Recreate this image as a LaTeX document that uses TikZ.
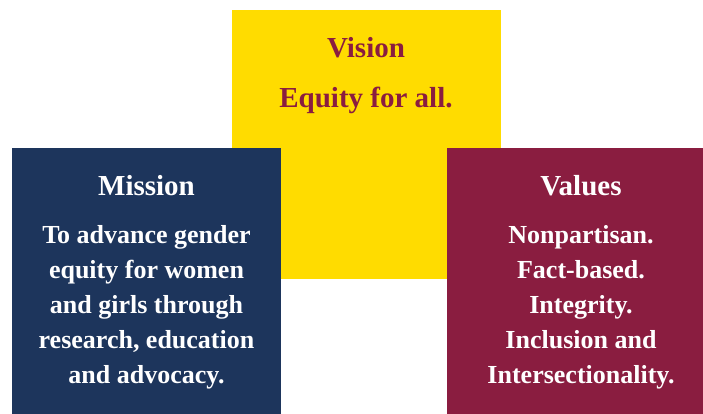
\documentclass[tikz,border=0pt]{standalone}
\usepackage{fontspec}
\setmainfont{Liberation Serif}
\definecolor{gold}{HTML}{FFDC00}
\definecolor{navy}{HTML}{1D355C}
\definecolor{maroon}{HTML}{8A1D40}
\begin{document}
\begin{tikzpicture}[x=1pt,y=-1pt,
  panel/.style={draw=none, inner sep=0pt, minimum width=269pt, minimum height=269pt, anchor=north west},
  txt/.style={inner sep=0pt, anchor=base, align=center, font=\bfseries\fontsize{26}{35}\selectfont},
  head/.style={inner sep=0pt, anchor=base, align=center, font=\bfseries\fontsize{29}{35}\selectfont}]
\useasboundingbox (0,0) rectangle (703,414);
\clip (0,0) rectangle (703,414);
\node[panel, fill=gold] (vision) at (232,10) {};
\node[panel, fill=navy] (mission) at (12,148) {};
\node[panel, fill=maroon] (values) at (447,148) {};
\node[head, text=maroon] (vt) at (366,58) {Vision};
\node[head, text=maroon] (vb) at (366,108) {Equity for all.};
\node[head, text=white] (mt) at (146.5,195) {Mission};
\node[txt, text=white] (mb) at (146.5,383) {To advance gender\\equity for women\\and girls through\\research, education\\and advocacy.};
\node[head, text=white] (lt) at (581,195) {Values};
\node[txt, text=white] (lb) at (581,383) {Nonpartisan.\\Fact-based.\\Integrity.\\Inclusion and\\Intersectionality.};
\end{tikzpicture}
\end{document}
